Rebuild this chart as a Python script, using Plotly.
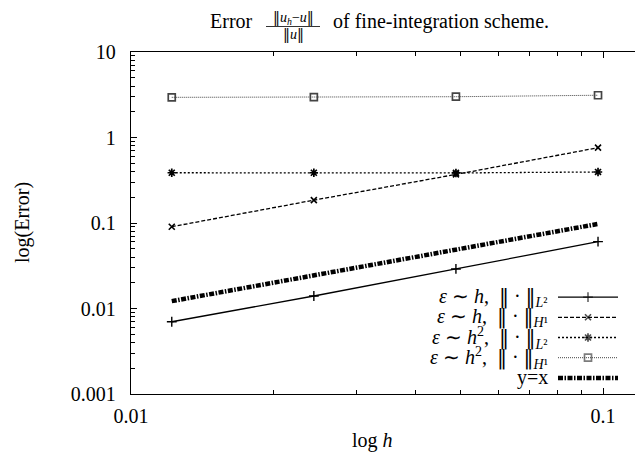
import plotly.graph_objects as go

# ---- data ----
h = [0.0122, 0.0244, 0.0488, 0.0976]
err_h_L2 = [0.0070, 0.0140, 0.0290, 0.0605]
err_h_H1 = [0.0905, 0.185, 0.37, 0.76]
err_h2_L2 = [0.387, 0.387, 0.385, 0.395]
err_h2_H1 = [2.95, 2.97, 3.0, 3.12]
ref_yx = h

NORM = "<span style='font-family:DejaVu Serif'>‖</span>"
legend_labels = [
    f"<i>ε</i> ∼ <i>h</i>,  {NORM} · {NORM}<sub><i>L</i>²</sub>",
    f"<i>ε</i> ∼ <i>h</i>,  {NORM} · {NORM}<sub><i>H</i>¹</sub>",
    f"<i>ε</i> ∼ <i>h</i><sup>2</sup>,  {NORM} · {NORM}<sub><i>L</i>²</sub>",
    f"<i>ε</i> ∼ <i>h</i><sup>2</sup>,  {NORM} · {NORM}<sub><i>H</i>¹</sub>",
    "y=x",
]
x_ticks = [0.01, 0.1]
x_ticklabels = ["0.01", "0.1"]
y_ticks = [0.001, 0.01, 0.1, 1, 10]
y_ticklabels = ["0.001", "0.01", "0.1", "1", "10"]

FONT = "Liberation Serif"
FS = 20
W, H = 645, 461          # slightly wider than the window: the right frame falls off-page
L, T, B = 131, 52, 67
PW, PH = W - L, H - T - B
XR_END = -2 + PW / 472.0  # 472 px per decade, as in the reference

def px2px(x):
    return (x - L) / PW

def py2py(y):
    return (H - B - y) / PH

styles = [
    dict(line=dict(color="black", width=1.3, dash="solid"),
         marker=dict(symbol="cross-thin-open", size=7, line=dict(width=1.4, color="black"))),
    dict(line=dict(color="black", width=1.3, dash="4px,2px"),
         marker=dict(symbol="x-thin-open", size=6, line=dict(width=1.6, color="black"))),
    dict(line=dict(color="black", width=1.3, dash="2px,2px"),
         marker=dict(symbol="asterisk-open", size=7, line=dict(width=1.7, color="black"))),
    dict(line=dict(color="#444444", width=1.0, dash="1px,1px"),
         marker=dict(symbol="square-open", size=7, line=dict(width=1.7, color="black"))),
    dict(line=dict(color="black", width=4.5, dash="5px,1.5px,1.5px,1.5px"),
         marker=dict(size=0)),
]
series = [err_h_L2, err_h_H1, err_h2_L2, err_h2_H1, ref_yx]

fig = go.Figure()
for i, (ys, st) in enumerate(zip(series, styles)):
    mode = "lines" if i == 4 else "lines+markers"
    fig.add_trace(go.Scatter(x=h, y=ys, mode=mode, line=st["line"],
                             marker=st["marker"], showlegend=False,
                             xaxis="x", yaxis="y"))

# legend drawn on a small helper axis (text to the left of the sample)
rows = [4.5, 3.5, 2.5, 1.5, 0.5]
for i, st in enumerate(styles):
    mk = dict(st["marker"])
    if i < 4:
        mk = dict(symbol=mk["symbol"], size=[0, mk["size"], 0], line=mk["line"])
    fig.add_trace(go.Scatter(x=[0, 0.5, 1], y=[rows[i]] * 3,
                             mode="lines" if i == 4 else "lines+markers",
                             line=st["line"], marker=mk, showlegend=False,
                             xaxis="x2", yaxis="y2", hoverinfo="skip"))
    fig.add_annotation(x=px2px(550), xref="paper", y=rows[i], yref="y2",
                       text=legend_labels[i], showarrow=False, xanchor="right",
                       yanchor="middle", font=dict(family=FONT, size=FS, color="black"))

axis_common = dict(type="log", showgrid=False, zeroline=False, showline=True,
                   linecolor="black", linewidth=1.3, mirror="allticks",
                   ticks="inside", ticklen=6, tickwidth=1, tickcolor="black",
                   automargin=False,
                   minor=dict(ticks="inside", ticklen=3.5, tickwidth=1,
                              tickcolor="black", dtick="D1", showgrid=False),
                   tickfont=dict(family=FONT, size=FS, color="black"))

fig.update_layout(
    width=W, height=H, autosize=False,
    margin=dict(l=L, r=0, t=T, b=B, autoexpand=False),
    paper_bgcolor="white", plot_bgcolor="white",
    xaxis=dict(**axis_common, range=[-2, XR_END], tickvals=x_ticks,
               ticktext=x_ticklabels, ticklabelstandoff=4),
    yaxis=dict(**axis_common, range=[-3, 1], tickvals=y_ticks,
               ticktext=y_ticklabels, ticklabelstandoff=10),
    xaxis2=dict(domain=[px2px(558), px2px(618)], range=[0, 1], visible=False,
                anchor="y2", automargin=False),
    yaxis2=dict(domain=[py2py(388), py2py(287)], range=[0, 5], visible=False,
                anchor="x2", automargin=False),
    showlegend=False,
)

# axis titles
fig.add_annotation(x=px2px(372), xref="paper", y=py2py(440), yref="paper",
                   text="log <i>h</i>", showarrow=False, xanchor="center",
                   yanchor="middle", font=dict(family=FONT, size=FS, color="black"))
fig.add_annotation(x=px2px(22), xref="paper", y=0.5, yref="paper",
                   text="log(Error)", showarrow=False, textangle=-90,
                   xanchor="center", yanchor="middle",
                   font=dict(family=FONT, size=FS, color="black"))

# title with a fraction
tf = dict(family=FONT, size=FS, color="black")
ff = dict(family=FONT, size=14, color="black")
fig.add_annotation(x=px2px(255), xref="paper", y=py2py(21), yref="paper",
                   text="Error", showarrow=False, xanchor="right", yanchor="middle", font=tf)
fig.add_annotation(x=px2px(293), xref="paper", y=py2py(18), yref="paper",
                   text=f"{NORM}<i>u</i><sub><i>h</i></sub>−<i>u</i>{NORM}", showarrow=False,
                   xanchor="center", yanchor="middle", font=ff)
fig.add_annotation(x=px2px(293), xref="paper", y=py2py(34), yref="paper",
                   text=f"{NORM}<i>u</i>{NORM}", showarrow=False,
                   xanchor="center", yanchor="middle", font=ff)
fig.add_shape(type="line", xref="paper", yref="paper",
              x0=px2px(266), x1=px2px(320), y0=py2py(26.5), y1=py2py(26.5),
              line=dict(color="black", width=0.8))
fig.add_annotation(x=px2px(331), xref="paper", y=py2py(21), yref="paper",
                   text="of fine-integration scheme.", showarrow=False,
                   xanchor="left", yanchor="middle", font=tf)

html = fig.to_html(config={"displayModeBar": False, "responsive": False},
                   full_html=True, include_plotlyjs=True)
html = html.replace("<head>", "<head><style>html,body{margin:0;padding:0;overflow:hidden;}</style>", 1)
with open("out.html", "w", encoding="utf-8") as f:
    f.write(html)
